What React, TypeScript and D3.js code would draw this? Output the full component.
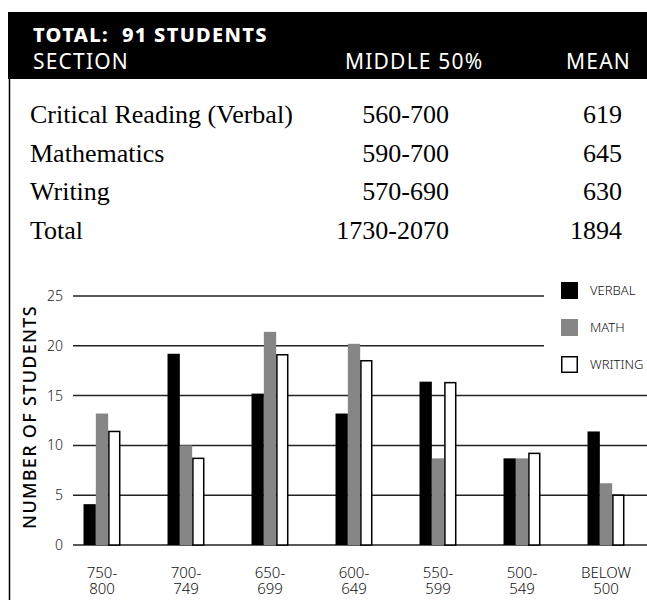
import React from "react";
import * as d3 from "d3";

// score ranges on the x axis (two-line labels)
const ranges = ["750-800", "700-749", "650-699", "600-649", "550-599", "500-549", "BELOW 500"];
const rangeLines = [
  ["750-", "800"],
  ["700-", "749"],
  ["650-", "699"],
  ["600-", "649"],
  ["550-", "599"],
  ["500-", "549"],
  ["BELOW", "500"],
];

const seriesNames = ["VERBAL", "MATH", "WRITING"];
const verbal = [4.1, 19.2, 15.2, 13.2, 16.4, 8.7, 11.4];
const math = [13.2, 10.0, 21.4, 20.2, 8.7, 8.7, 6.2];
const writing = [11.4, 8.7, 19.1, 18.5, 16.3, 9.2, 5.0];

const yTicks = [0, 5, 10, 15, 20, 25];

// table
const sections = ["Critical Reading (Verbal)", "Mathematics", "Writing", "Total"];
const middle50 = ["560-700", "590-700", "570-690", "1730-2070"];
const means = ["619", "645", "630", "1894"];

const W = 647;
const H = 600;
const SANS = "'Noto Sans', sans-serif";
const SERIF = "'Liberation Serif', serif";

const fills = { VERBAL: "#000", MATH: "#868686", WRITING: "#fff" };

export default function App() {
  const x0 = d3.scaleBand<string>().domain(ranges).range([60, 648]).paddingInner(0.56).paddingOuter(0.28);
  const x1 = d3.scaleBand<string>().domain(seriesNames).range([0, x0.bandwidth()]);
  const y = d3.scaleLinear().domain([0, 25]).range([545, 296]);

  const values = { VERBAL: verbal, MATH: math, WRITING: writing };

  return (
    <svg width={W} height={H} style={{ position: "absolute", left: 0, top: 0 }}>
      <rect x={0} y={0} width={W} height={H} fill="#fff" />

      {/* header band */}
      <rect x={8} y={12} width={W - 8} height={67} fill="#000" />
      <line x1={9.5} x2={9.5} y1={79} y2={H} stroke="#000" strokeWidth={1.5} />
      <text x={33} y={41.5} fill="#fff" fontFamily={SANS} fontWeight={800} fontSize={20} letterSpacing={1.3}>
        TOTAL:&#160; 91 STUDENTS
      </text>
      <g fill="#fff" fontFamily={SANS} fontSize={21} letterSpacing={1.2}>
        <text x={33} y={68.5}>SECTION</text>
        <text x={345} y={68.5}>MIDDLE 50%</text>
        <text x={631} y={68.5} textAnchor="end">MEAN</text>
      </g>

      {/* table rows */}
      <g fontFamily={SERIF} fontSize={26} fill="#000">
        {sections.map((s, i) => (
          <g key={s}>
            <text x={30} y={123 + i * 38.5}>{s}</text>
            <text x={449} y={123 + i * 38.5} textAnchor="end">{middle50[i]}</text>
            <text x={622} y={123 + i * 38.5} textAnchor="end">{means[i]}</text>
          </g>
        ))}
      </g>

      {/* grid */}
      {yTicks.map((t) => (
        <g key={t}>
          <line
            x1={73}
            x2={t >= 20 ? 544 : W}
            y1={y(t)}
            y2={y(t)}
            stroke="#222"
            strokeWidth={1.5}
          />
          <text
            x={63}
            y={y(t)}
            dy="0.35em"
            textAnchor="end"
            fontFamily={SANS}
            fontWeight={300}
            fontSize={14}
            fill="#222"
          >
            {t}
          </text>
        </g>
      ))}

      <text
        transform={`translate(36,417) rotate(-90)`}
        textAnchor="middle"
        fontFamily={SANS}
        fontWeight={500}
        fontSize={18}
        letterSpacing={1.3}
        fill="#000"
      >
        NUMBER OF STUDENTS
      </text>

      {/* bars */}
      {ranges.map((r, i) => (
        <g key={r} transform={`translate(${x0(r)},0)`}>
          {seriesNames.map((s) => {
            const v = values[s][i];
            const isW = s === "WRITING";
            return (
              <rect
                key={s}
                x={x1(s)! + (isW ? 0.75 : 0)}
                y={y(v)}
                width={x1.bandwidth() - (isW ? 1.5 : 0)}
                height={y(0) - y(v)}
                fill={fills[s]}
                stroke={isW ? "#000" : "none"}
                strokeWidth={1.5}
              />
            );
          })}
          <text
            x={x0.bandwidth() / 2}
            textAnchor="middle"
            fontFamily={SANS}
            fontWeight={300}
            fontSize={15}
            fill="#111"
          >
            <tspan x={x0.bandwidth() / 2} y={578}>{rangeLines[i][0]}</tspan>
            <tspan x={x0.bandwidth() / 2} y={594}>{rangeLines[i][1]}</tspan>
          </text>
        </g>
      ))}

      {/* legend */}
      {seriesNames.map((s, i) => (
        <g key={s} transform={`translate(561,${282 + i * 37})`}>
          <rect
            x={s === "WRITING" ? 0.75 : 0}
            y={s === "WRITING" ? 0.75 : 0}
            width={s === "WRITING" ? 15.5 : 17}
            height={s === "WRITING" ? 15.5 : 17}
            fill={fills[s]}
            stroke={s === "WRITING" ? "#000" : "none"}
            strokeWidth={1.5}
          />
          <text
            x={29}
            y={8.5}
            dy="0.35em"
            fontFamily={SANS}
            fontWeight={300}
            fontSize={13}
            fill="#111"
          >
            {s}
          </text>
        </g>
      ))}
    </svg>
  );
}
